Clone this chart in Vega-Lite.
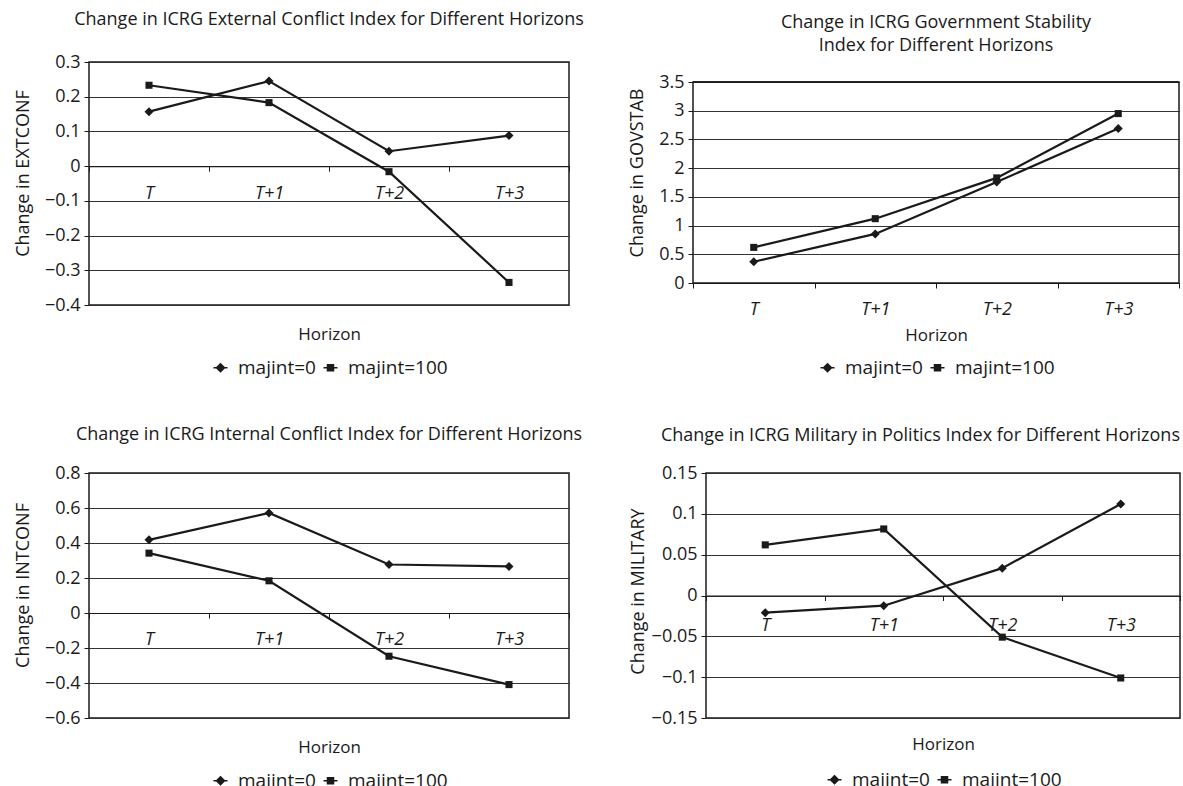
{
  "$schema": "https://vega.github.io/schema/vega-lite/v6.json",
  "background": "white",
  "padding": {"left": 13, "top": 10, "right": 0, "bottom": 0},
  "datasets": {
    "ext": [
      {"horizon": "T", "series": "majint=0", "value": 0.157},
      {"horizon": "T+1", "series": "majint=0", "value": 0.245},
      {"horizon": "T+2", "series": "majint=0", "value": 0.043},
      {"horizon": "T+3", "series": "majint=0", "value": 0.088},
      {"horizon": "T", "series": "majint=100", "value": 0.233},
      {"horizon": "T+1", "series": "majint=100", "value": 0.183},
      {"horizon": "T+2", "series": "majint=100", "value": -0.016},
      {"horizon": "T+3", "series": "majint=100", "value": -0.335}
    ],
    "gov": [
      {"horizon": "T", "series": "majint=0", "value": 0.37},
      {"horizon": "T+1", "series": "majint=0", "value": 0.855},
      {"horizon": "T+2", "series": "majint=0", "value": 1.76},
      {"horizon": "T+3", "series": "majint=0", "value": 2.69},
      {"horizon": "T", "series": "majint=100", "value": 0.62},
      {"horizon": "T+1", "series": "majint=100", "value": 1.12},
      {"horizon": "T+2", "series": "majint=100", "value": 1.83},
      {"horizon": "T+3", "series": "majint=100", "value": 2.95}
    ],
    "int": [
      {"horizon": "T", "series": "majint=0", "value": 0.418},
      {"horizon": "T+1", "series": "majint=0", "value": 0.572},
      {"horizon": "T+2", "series": "majint=0", "value": 0.277},
      {"horizon": "T+3", "series": "majint=0", "value": 0.266},
      {"horizon": "T", "series": "majint=100", "value": 0.342},
      {"horizon": "T+1", "series": "majint=100", "value": 0.184},
      {"horizon": "T+2", "series": "majint=100", "value": -0.247},
      {"horizon": "T+3", "series": "majint=100", "value": -0.409}
    ],
    "mil": [
      {"horizon": "T", "series": "majint=0", "value": -0.021},
      {"horizon": "T+1", "series": "majint=0", "value": -0.0125},
      {"horizon": "T+2", "series": "majint=0", "value": 0.0335},
      {"horizon": "T+3", "series": "majint=0", "value": 0.112},
      {"horizon": "T", "series": "majint=100", "value": 0.062},
      {"horizon": "T+1", "series": "majint=100", "value": 0.0815},
      {"horizon": "T+2", "series": "majint=100", "value": -0.051},
      {"horizon": "T+3", "series": "majint=100", "value": -0.101}
    ]
  },
  "spacing": 46,
  "resolve": {"scale": {"shape": "independent"}, "legend": {"shape": "independent"}},
  "vconcat": [
    {
      "spacing": 43,
      "resolve": {"scale": {"shape": "independent"}, "legend": {"shape": "independent"}},
      "hconcat": [
        {
          "title": {"text": "Change in ICRG External Conflict Index for Different Horizons", "offset": 24},
          "width": 480, "height": 243,
          "data": {"name": "ext"},
          "encoding": {
            "x": {"field": "horizon", "type": "nominal", "sort": ["T", "T+1", "T+2", "T+3"], "bandPosition": 0.5,
              "scale": {"type": "band", "paddingInner": 0, "paddingOuter": 0},
              "axis": {"offset": -138.86, "labelPadding": 13, "title": "Horizon", "titlePadding": 124}},
            "y": {"field": "value", "type": "quantitative",
              "scale": {"domain": [-0.4, 0.3], "nice": false, "zero": false},
              "axis": {"values": [-0.4, -0.3, -0.2, -0.1, 0, 0.1, 0.2, 0.3], "labelExpr": "format(datum.value, '.2~f')", "title": "Change in EXTCONF", "titlePadding": 12, "titleY": 111}}
          },
          "layer": [
            {"mark": {"type": "line", "color": "#1a1a1a", "strokeWidth": 2.2}, "encoding": {"detail": {"field": "series"}}},
            {"transform": [{"filter": "datum.series === 'majint=0'"}], "mark": {"type": "point", "shape": "diamond", "filled": true, "color": "#1a1a1a", "opacity": 1, "size": 81}},
            {"transform": [{"filter": "datum.series === 'majint=100'"}], "mark": {"type": "point", "shape": "square", "filled": true, "color": "#1a1a1a", "opacity": 1, "size": 50}},
            {"data": {"values": []},
              "mark": {"type": "point", "filled": false, "fill": "#1a1a1a", "stroke": "#1a1a1a", "strokeWidth": 1.6, "opacity": 1, "size": 64},
              "encoding": {"shape": {"field": "series", "type": "nominal",
                "scale": {"domain": ["majint=0", "majint=100"], "range": ["M-1.75,0H1.75M0,-1L1,0L0,1L-1,0Z", "M-1.75,0H1.75M-0.75,-0.75H0.75V0.75H-0.75Z"]},
                "legend": {"offset": 15}}}}
          ]
        },
        {
          "title": {"text": ["Change in ICRG Government Stability", "Index for Different Horizons"], "offset": 7},
          "width": 486, "height": 221,
          "view": {"stroke": null},
          "data": {"name": "gov"},
          "layer": [
            {"data": {"values": [{}]},
              "mark": {"type": "rect", "filled": false, "color": "#1a1a1a", "strokeWidth": 1.5},
              "encoding": {
                "y": {"datum": 0, "type": "quantitative", "scale": {"domain": [0, 3.84826], "nice": false, "zero": false},
                  "axis": {"values": [0, 0.5, 1, 1.5, 2, 2.5, 3, 3.5], "labelExpr": "format(datum.value, '.2~f')", "title": "Change in GOVSTAB", "titlePadding": 12}},
                "y2": {"datum": 3.5}
              }},
            {"data": {"values": [{}]},
              "mark": {"type": "rule", "color": "#1a1a1a", "strokeWidth": 1.5},
              "encoding": {
                "y": {"datum": 3.5, "type": "quantitative",
                  "axis": {"values": [0, 0.5, 1, 1.5, 2, 2.5, 3, 3.5], "labelExpr": "format(datum.value, '.2~f')", "title": "Change in GOVSTAB", "titlePadding": 12}}
              }},
            {"mark": {"type": "line", "color": "#1a1a1a", "strokeWidth": 2.2},
              "encoding": {
                "x": {"field": "horizon", "type": "nominal", "sort": ["T", "T+1", "T+2", "T+3"], "bandPosition": 0.5,
                  "scale": {"type": "band", "paddingInner": 0, "paddingOuter": 0},
                  "axis": {"offset": 0, "labelPadding": 12, "title": "Horizon", "titlePadding": 9}},
                "y": {"field": "value", "type": "quantitative", "scale": {"domain": [0, 3.84826], "nice": false, "zero": false},
                  "axis": {"values": [0, 0.5, 1, 1.5, 2, 2.5, 3, 3.5], "labelExpr": "format(datum.value, '.2~f')", "title": "Change in GOVSTAB", "titlePadding": 12}},
                "detail": {"field": "series"}
              }},
            {"transform": [{"filter": "datum.series === 'majint=0'"}],
              "mark": {"type": "point", "shape": "diamond", "filled": true, "color": "#1a1a1a", "opacity": 1, "size": 81},
              "encoding": {
                "x": {"field": "horizon", "type": "nominal", "sort": ["T", "T+1", "T+2", "T+3"], "bandPosition": 0.5,
                  "axis": {"offset": 0, "labelPadding": 12, "title": "Horizon", "titlePadding": 9}},
                "y": {"field": "value", "type": "quantitative",
                  "axis": {"values": [0, 0.5, 1, 1.5, 2, 2.5, 3, 3.5], "labelExpr": "format(datum.value, '.2~f')", "title": "Change in GOVSTAB", "titlePadding": 12}}
              }},
            {"transform": [{"filter": "datum.series === 'majint=100'"}],
              "mark": {"type": "point", "shape": "square", "filled": true, "color": "#1a1a1a", "opacity": 1, "size": 50},
              "encoding": {
                "x": {"field": "horizon", "type": "nominal", "sort": ["T", "T+1", "T+2", "T+3"], "bandPosition": 0.5,
                  "axis": {"offset": 0, "labelPadding": 12, "title": "Horizon", "titlePadding": 9}},
                "y": {"field": "value", "type": "quantitative",
                  "axis": {"values": [0, 0.5, 1, 1.5, 2, 2.5, 3, 3.5], "labelExpr": "format(datum.value, '.2~f')", "title": "Change in GOVSTAB", "titlePadding": 12}}
              }},
            {"data": {"values": []},
              "mark": {"type": "point", "filled": false, "fill": "#1a1a1a", "stroke": "#1a1a1a", "strokeWidth": 1.6, "opacity": 1, "size": 64},
              "encoding": {"shape": {"field": "series", "type": "nominal",
                "scale": {"domain": ["majint=0", "majint=100"], "range": ["M-1.75,0H1.75M0,-1L1,0L0,1L-1,0Z", "M-1.75,0H1.75M-0.75,-0.75H0.75V0.75H-0.75Z"]},
                "legend": {"offset": 15}}}}
          ]
        }
      ]
    },
    {
      "spacing": 45,
      "resolve": {"scale": {"shape": "independent"}, "legend": {"shape": "independent"}},
      "hconcat": [
        {
          "title": {"text": "Change in ICRG Internal Conflict Index for Different Horizons", "offset": 20},
          "width": 480, "height": 245,
          "data": {"name": "int"},
          "encoding": {
            "x": {"field": "horizon", "type": "nominal", "sort": ["T", "T+1", "T+2", "T+3"], "bandPosition": 0.5,
              "scale": {"type": "band", "paddingInner": 0, "paddingOuter": 0},
              "axis": {"offset": -105, "labelPadding": 12, "title": "Horizon", "titlePadding": 91}},
            "y": {"field": "value", "type": "quantitative",
              "scale": {"domain": [-0.6, 0.8], "nice": false, "zero": false},
              "axis": {"values": [-0.6, -0.4, -0.2, 0, 0.2, 0.4, 0.6, 0.8], "labelExpr": "format(datum.value, '.2~f')", "title": "Change in INTCONF", "titlePadding": 12, "titleY": 112}}
          },
          "layer": [
            {"mark": {"type": "line", "color": "#1a1a1a", "strokeWidth": 2.2}, "encoding": {"detail": {"field": "series"}}},
            {"transform": [{"filter": "datum.series === 'majint=0'"}], "mark": {"type": "point", "shape": "diamond", "filled": true, "color": "#1a1a1a", "opacity": 1, "size": 81}},
            {"transform": [{"filter": "datum.series === 'majint=100'"}], "mark": {"type": "point", "shape": "square", "filled": true, "color": "#1a1a1a", "opacity": 1, "size": 50}},
            {"data": {"values": []},
              "mark": {"type": "point", "filled": false, "fill": "#1a1a1a", "stroke": "#1a1a1a", "strokeWidth": 1.6, "opacity": 1, "size": 64},
              "encoding": {"shape": {"field": "series", "type": "nominal",
                "scale": {"domain": ["majint=0", "majint=100"], "range": ["M-1.75,0H1.75M0,-1L1,0L0,1L-1,0Z", "M-1.75,0H1.75M-0.75,-0.75H0.75V0.75H-0.75Z"]},
                "legend": {"offset": 16}}}}
          ]
        },
        {
          "title": {"text": "Change in ICRG Military in Politics Index for Different Horizons", "offset": 19, "anchor": "end"},
          "width": 474, "height": 245,
          "data": {"name": "mil"},
          "encoding": {
            "x": {"field": "horizon", "type": "nominal", "sort": ["T", "T+1", "T+2", "T+3"], "bandPosition": 0.5,
              "scale": {"type": "band", "paddingInner": 0, "paddingOuter": 0},
              "axis": {"offset": -122.5, "labelPadding": 16, "title": "Horizon", "titlePadding": 102}},
            "y": {"field": "value", "type": "quantitative",
              "scale": {"domain": [-0.15, 0.15], "nice": false, "zero": false},
              "axis": {"values": [-0.15, -0.1, -0.05, 0, 0.05, 0.1, 0.15], "labelExpr": "format(datum.value, '.2~f')", "title": "Change in MILITARY", "titlePadding": 4, "titleY": 118}}
          },
          "layer": [
            {"mark": {"type": "line", "color": "#1a1a1a", "strokeWidth": 2.2}, "encoding": {"detail": {"field": "series"}}},
            {"transform": [{"filter": "datum.series === 'majint=0'"}], "mark": {"type": "point", "shape": "diamond", "filled": true, "color": "#1a1a1a", "opacity": 1, "size": 81}},
            {"transform": [{"filter": "datum.series === 'majint=100'"}], "mark": {"type": "point", "shape": "square", "filled": true, "color": "#1a1a1a", "opacity": 1, "size": 50}},
            {"data": {"values": []},
              "mark": {"type": "point", "filled": false, "fill": "#1a1a1a", "stroke": "#1a1a1a", "strokeWidth": 1.6, "opacity": 1, "size": 64},
              "encoding": {"shape": {"field": "series", "type": "nominal",
                "scale": {"domain": ["majint=0", "majint=100"], "range": ["M-1.75,0H1.75M0,-1L1,0L0,1L-1,0Z", "M-1.75,0H1.75M-0.75,-0.75H0.75V0.75H-0.75Z"]},
                "legend": {"offset": 17}}}}
          ]
        }
      ]
    }
  ],
  "config": {
    "font": "Open Sans",
    "view": {"stroke": "#1a1a1a", "strokeWidth": 1.5},
    "title": {"fontSize": 18, "fontWeight": "normal", "color": "#1a1a1a", "anchor": "middle", "frame": "group", "lineHeight": 23},
    "axis": {"labelFontSize": 18, "labelColor": "#1a1a1a", "titleFontSize": 17, "titleFontWeight": "normal", "titleColor": "#1a1a1a", "tickColor": "#1a1a1a", "tickSize": 5, "tickWidth": 1},
    "axisY": {"grid": true, "gridColor": "#333333", "gridWidth": 1, "domain": false, "labelPadding": 4, "titleFontSize": 18},
    "axisX": {"grid": false, "domain": true, "domainColor": "#1a1a1a", "domainWidth": 1.2, "tickBand": "extent", "labelAngle": 0, "labelFontStyle": "italic", "labelBaseline": "top"},
    "legend": {"orient": "bottom", "direction": "horizontal", "title": null, "symbolSize": 64, "labelFontSize": 19, "labelColor": "#1a1a1a", "labelOffset": 8, "columnPadding": 4, "layout": {"bottom": {"anchor": "middle"}}}
  }
}
